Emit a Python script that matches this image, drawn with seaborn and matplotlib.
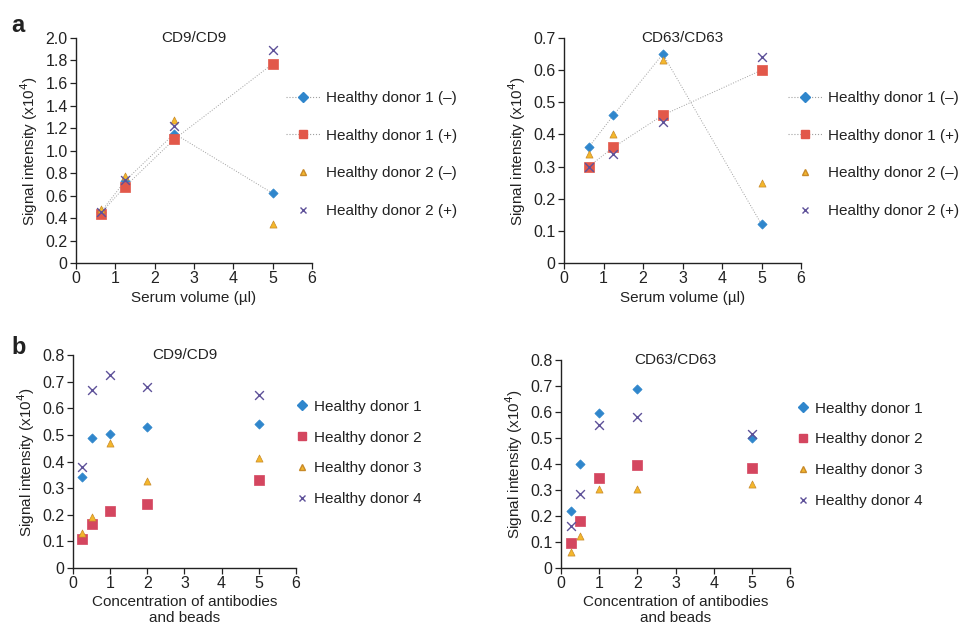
import matplotlib
matplotlib.use('Agg')
import matplotlib.pyplot as plt
from matplotlib.lines import Line2D
import seaborn as sns
import pandas as pd

# panel a: serum volume titration
serum_ul = [0.625, 1.25, 2.5, 5]
a_labels = ['Healthy donor 1 (–)', 'Healthy donor 1 (+)',
            'Healthy donor 2 (–)', 'Healthy donor 2 (+)']
cd9_serum = [
    [0.45, 0.73, 1.15, 0.62],
    [0.44, 0.68, 1.10, 1.77],
    [0.48, 0.77, 1.27, 0.35],
    [0.45, 0.74, 1.22, 1.89],
]
cd63_serum = [
    [0.36, 0.46, 0.65, 0.12],
    [0.30, 0.36, 0.46, 0.60],
    [0.34, 0.40, 0.63, 0.25],
    [0.30, 0.34, 0.44, 0.64],
]

# panel b: antibody/bead concentration
conc = [0.25, 0.5, 1, 2, 5]
b_labels = ['Healthy donor 1', 'Healthy donor 2', 'Healthy donor 3', 'Healthy donor 4']
cd9_conc = [
    [0.34, 0.49, 0.505, 0.53, 0.54],
    [0.11, 0.165, 0.215, 0.24, 0.33],
    [0.13, 0.19, 0.47, 0.325, 0.415],
    [0.38, 0.67, 0.725, 0.68, 0.65],
]
cd63_conc = [
    [0.22, 0.40, 0.595, 0.69, 0.50],
    [0.095, 0.18, 0.345, 0.395, 0.385],
    [0.06, 0.125, 0.305, 0.305, 0.325],
    [0.16, 0.285, 0.55, 0.58, 0.515],
]

colors_a = ['#2f86cc', '#e2584a', '#f4b72c', '#5e5199']
colors_b = ['#2f86cc', '#d4465f', '#f4b72c', '#5e5199']
marker_list = ['D', 's', '^', 'x']
marker_sizes = [22, 50, 26, 40]
FS = 11


def to_frame(xs, series, labels):
    rows = []
    for lab, ys in zip(labels, series):
        for x, y in zip(xs, ys):
            rows.append({'x': x, 'y': y, 'donor': lab})
    return pd.DataFrame(rows)


def draw_panel(ax, df, labels, colors, title, ymax, ystep, xlabel, lines, leg_x, leg_y, leg_space):
    if lines:
        sub = df[df['donor'].isin(labels[:2])]
        sns.lineplot(data=sub, x='x', y='y', units='donor', estimator=None,
                     color='#a0a0a0', lw=0.7, ls=':', legend=False, ax=ax, zorder=1)
    for i, lab in enumerate(labels):
        sub = df[df['donor'] == lab]
        ec = '#c88a2a' if i == 2 else colors[i]
        sns.scatterplot(data=sub, x='x', y='y', marker=marker_list[i], color=colors[i],
                        s=marker_sizes[i], edgecolor=ec,
                        linewidth=1.0 if marker_list[i] == 'x' else 0.5,
                        legend=False, ax=ax, zorder=3)
    ax.set_xlim(0, 6)
    ax.set_ylim(0, ymax)
    ax.set_xticks(range(0, 7))
    ticks = [round(ystep * k, 2) for k in range(int(round(ymax / ystep)) + 1)]
    ax.set_yticks(ticks)
    ax.set_yticklabels(['0'] + [f'{t:.1f}' for t in ticks[1:]])
    ax.set_xlabel(xlabel, fontsize=FS, labelpad=3, linespacing=1.1)
    ax.set_ylabel('Signal intensity (x10$^4$)', fontsize=FS, labelpad=4)
    ax.text(0.5, 1.0, title, transform=ax.transAxes, ha='center', va='center', fontsize=FS)
    ax.tick_params(axis='both', labelsize=11.5, length=4, width=0.9, direction='out', pad=2)
    for sp in ['left', 'bottom']:
        ax.spines[sp].set_linewidth(1.0)
        ax.spines[sp].set_color('#222222')
    sns.despine(ax=ax)

    handles = []
    for i, lab in enumerate(labels):
        ls = ':' if (lines and i < 2) else 'none'
        ec = '#c88a2a' if i == 2 else colors[i]
        handles.append(Line2D([], [], color='#a0a0a0', ls=ls, lw=0.8, marker=marker_list[i],
                              markerfacecolor=colors[i], markeredgecolor=ec,
                              markersize=6 if marker_list[i] == 's' else 5))
    ax.legend(handles, labels, loc='upper left', bbox_to_anchor=(leg_x, leg_y), frameon=False,
              fontsize=FS, labelspacing=leg_space, handlelength=2.2 if lines else 0.8,
              handletextpad=0.4, borderaxespad=0, borderpad=0)


sns.set_style('ticks')
plt.rcParams['font.family'] = ['Liberation Sans', 'DejaVu Sans']
plt.rcParams['text.color'] = '#222222'
plt.rcParams['xtick.color'] = '#222222'
plt.rcParams['ytick.color'] = '#222222'
plt.rcParams['axes.labelcolor'] = '#222222'

fig = plt.figure(figsize=(9.64, 6.27), dpi=100)
ax1 = fig.add_axes([0.0788, 0.5805, 0.2448, 0.3589])
ax2 = fig.add_axes([0.5851, 0.5805, 0.2459, 0.3589])
ax3 = fig.add_axes([0.0757, 0.0941, 0.2313, 0.3397])
ax4 = fig.add_axes([0.5820, 0.0941, 0.2376, 0.3317])

draw_panel(ax1, to_frame(serum_ul, cd9_serum, a_labels), a_labels, colors_a, 'CD9/CD9',
           2.0, 0.2, 'Serum volume (µl)', True, 0.89, 0.765, 1.55)
draw_panel(ax2, to_frame(serum_ul, cd63_serum, a_labels), a_labels, colors_a, 'CD63/CD63',
           0.7, 0.1, 'Serum volume (µl)', True, 0.945, 0.765, 1.55)
draw_panel(ax3, to_frame(conc, cd9_conc, b_labels), b_labels, colors_b, 'CD9/CD9',
           0.8, 0.1, 'Concentration of antibodies\nand beads', False, 1.0, 0.79, 1.1)
draw_panel(ax4, to_frame(conc, cd63_conc, b_labels), b_labels, colors_b, 'CD63/CD63',
           0.8, 0.1, 'Concentration of antibodies\nand beads', False, 1.03, 0.8, 1.1)

fig.text(0.012, 0.96, 'a', fontsize=17, fontweight='bold', va='center')
fig.text(0.012, 0.445, 'b', fontsize=17, fontweight='bold', va='center')

fig.savefig('out.png', dpi=100)
